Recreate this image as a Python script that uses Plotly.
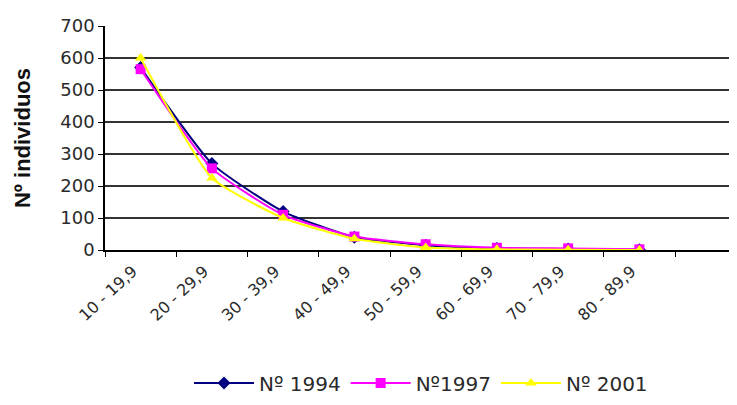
import plotly.graph_objects as go

categories = ["10 - 19,9", "20 - 29,9", "30 - 39,9", "40 - 49,9",
              "50 - 59,9", "60 - 69,9", "70 - 79,9", "80 - 89,9", " "]
n1994 = [570, 270, 120, 40, 15, 5, 3, 1]
n1997 = [565, 255, 110, 42, 18, 7, 5, 2]
n2001 = [600, 225, 100, 35, 8, 2, 1, 0]

series = [
    ("Nº 1994", n1994, "#000080", "diamond"),
    ("Nº1997", n1997, "#FF00FF", "square"),
    ("Nº 2001", n2001, "#FFFF00", "triangle-up"),
]

fig = go.Figure()
for name, vals, col, sym in series:
    fig.add_trace(go.Scatter(
        x=categories[:len(vals)], y=vals, name=name, mode="lines+markers",
        line=dict(color=col, width=2, shape="spline", smoothing=0.5),
        marker=dict(color=col, symbol=sym, size=10),
    ))

fig.update_layout(
    width=729, height=397,
    margin=dict(l=97, r=0, t=18, b=155),
    paper_bgcolor="white", plot_bgcolor="white",
    font=dict(family="DejaVu Sans, sans-serif", color="#2a2a2a", size=17),
    showlegend=True,
    legend=dict(orientation="h", x=0.5, xanchor="center", y=-0.594, yanchor="middle",
                font=dict(size=20), itemwidth=60),
    xaxis=dict(
        type="category", categoryorder="array", categoryarray=categories,
        range=[-0.5, 8.37], tickangle=-43, tickson="boundaries",
        ticks="outside", ticklen=5, tickcolor="black",
        showline=True, linecolor="black", linewidth=1.5,
        showgrid=False, tickfont=dict(size=16), automargin=False,
        ticklabelshift=-8, ticklabelstandoff=4,
    ),
    yaxis=dict(
        range=[0, 700], dtick=100, ticks="outside", ticklen=5, tickcolor="black",
        showline=True, linecolor="black", linewidth=1.5,
        showgrid=True, gridcolor="#333333", gridwidth=1.5,
        zeroline=False, tickfont=dict(size=18), automargin=False,
        title=dict(text="<b>Nº individuos</b>",
                   font=dict(family="Liberation Sans, Arial, sans-serif", size=22, color="#111111"),
                   standoff=24),
    ),
)

fig.write_html("out.html")
